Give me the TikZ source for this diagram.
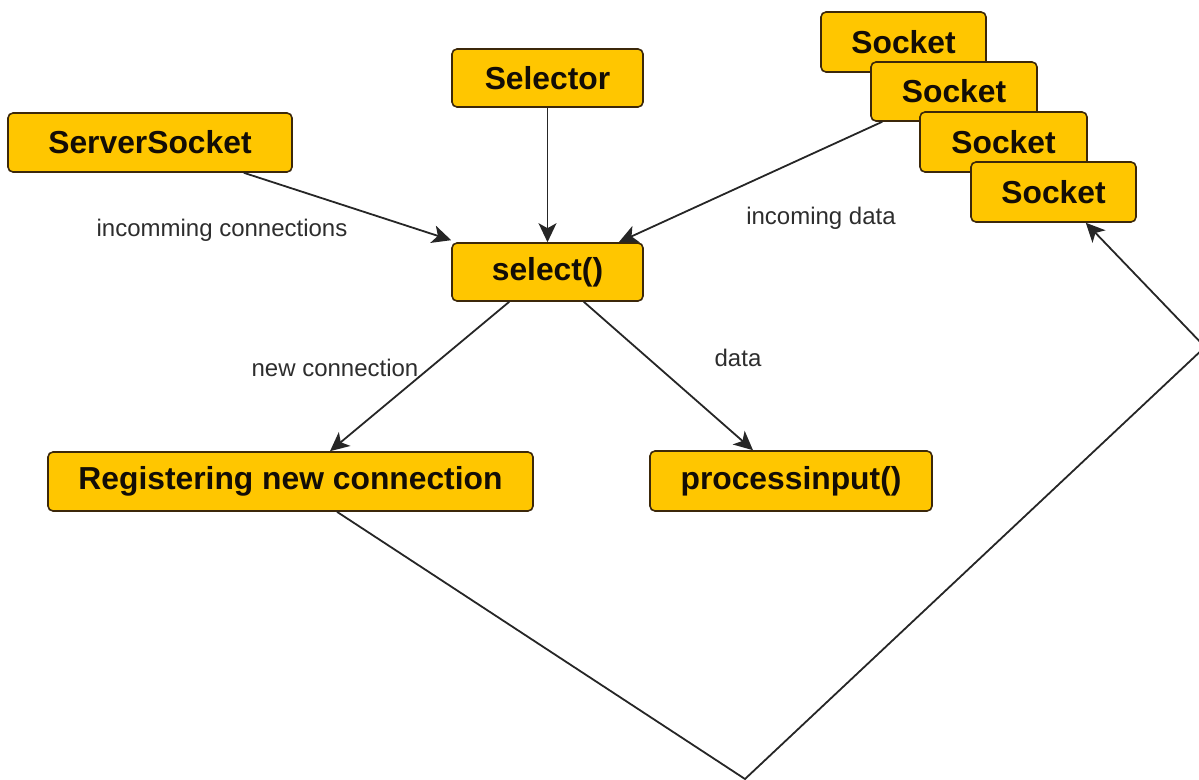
\documentclass[tikz,border=0pt]{standalone}
\usepackage{fontspec}
\setmainfont{Liberation Sans}
\usetikzlibrary{arrows.meta}
\definecolor{boxfill}{RGB}{255,198,0}
\definecolor{boxline}{RGB}{60,40,10}
\definecolor{labtext}{RGB}{45,45,45}
\tikzset{
  box/.style={draw=boxline, line width=0.8pt, fill=boxfill, rounded corners=2.5pt,
    font=\fontsize{15.9}{18}\selectfont\bfseries, text=black!90!brown, inner sep=0pt},
  conn/.style={draw=black!85, line width=0.9pt},
  arr/.style={conn, -{Stealth[length=9.5pt, width=9pt, inset=2.5pt]}},
  lab/.style={font=\fontsize{12}{14}\selectfont, text=labtext, inner sep=0pt}
}
\begin{document}
\begin{tikzpicture}[x=0.5pt, y=-0.5pt]
\useasboundingbox (0,0) rectangle (1199,780);
\clip (0,0) rectangle (1199,780);
% boxes
\node[box, minimum width=142pt, minimum height=29.5pt] (ss) at (150,142.5) {ServerSocket};
\node[box, minimum width=95.5pt, minimum height=29pt] (selector) at (547.5,78) {Selector};
\node[box, minimum width=95.5pt, minimum height=29pt] (sel) at (547.5,272) {select()};
\node[box, minimum width=242.5pt, minimum height=29.5pt] (reg) at (290.5,481.5) {Registering new connection};
\node[box, minimum width=141pt, minimum height=30pt] (proc) at (791,481) {processinput()};
\node[box, minimum width=82.5pt, minimum height=30pt] (sock1) at (903.5,42) {Socket};
\node[box, minimum width=83pt, minimum height=29.5pt] (sock2) at (954,91.5) {Socket};
\node[box, minimum width=83.5pt, minimum height=30pt] (sock3) at (1003.5,142) {Socket};
\node[box, minimum width=82.5pt, minimum height=30pt] (sock4) at (1053.5,192) {Socket};
% labels
\node[lab] (l1) at (222,230) {incomming connections};
\node[lab] (l2) at (821,218) {incoming data};
\node[lab] (l3) at (335,368) {new connection};
\node[lab] (l4) at (738,358) {data};
% connectors
\draw[arr] ([xshift=-24.5pt]ss.south east) -- ([yshift=1pt]sel.north west);
\draw[arr] (selector.south) -- (sel.north);
\draw[arr] ([xshift=6pt]sock2.south west) -- ([xshift=-12.5pt]sel.north east);
\draw[arr] ([xshift=29pt]sel.south west) -- ([xshift=19.75pt]reg.north);
\draw[arr] ([xshift=-30pt]sel.south east) -- ([xshift=-19pt]proc.north);
\coordinate (bot) at (745,779);
\coordinate (rc) at (1205,347);
\draw[arr] ([xshift=23.25pt]reg.south) -- (bot) -- (rc) -- ([xshift=-25.5pt]sock4.south east);
\end{tikzpicture}
\end{document}
